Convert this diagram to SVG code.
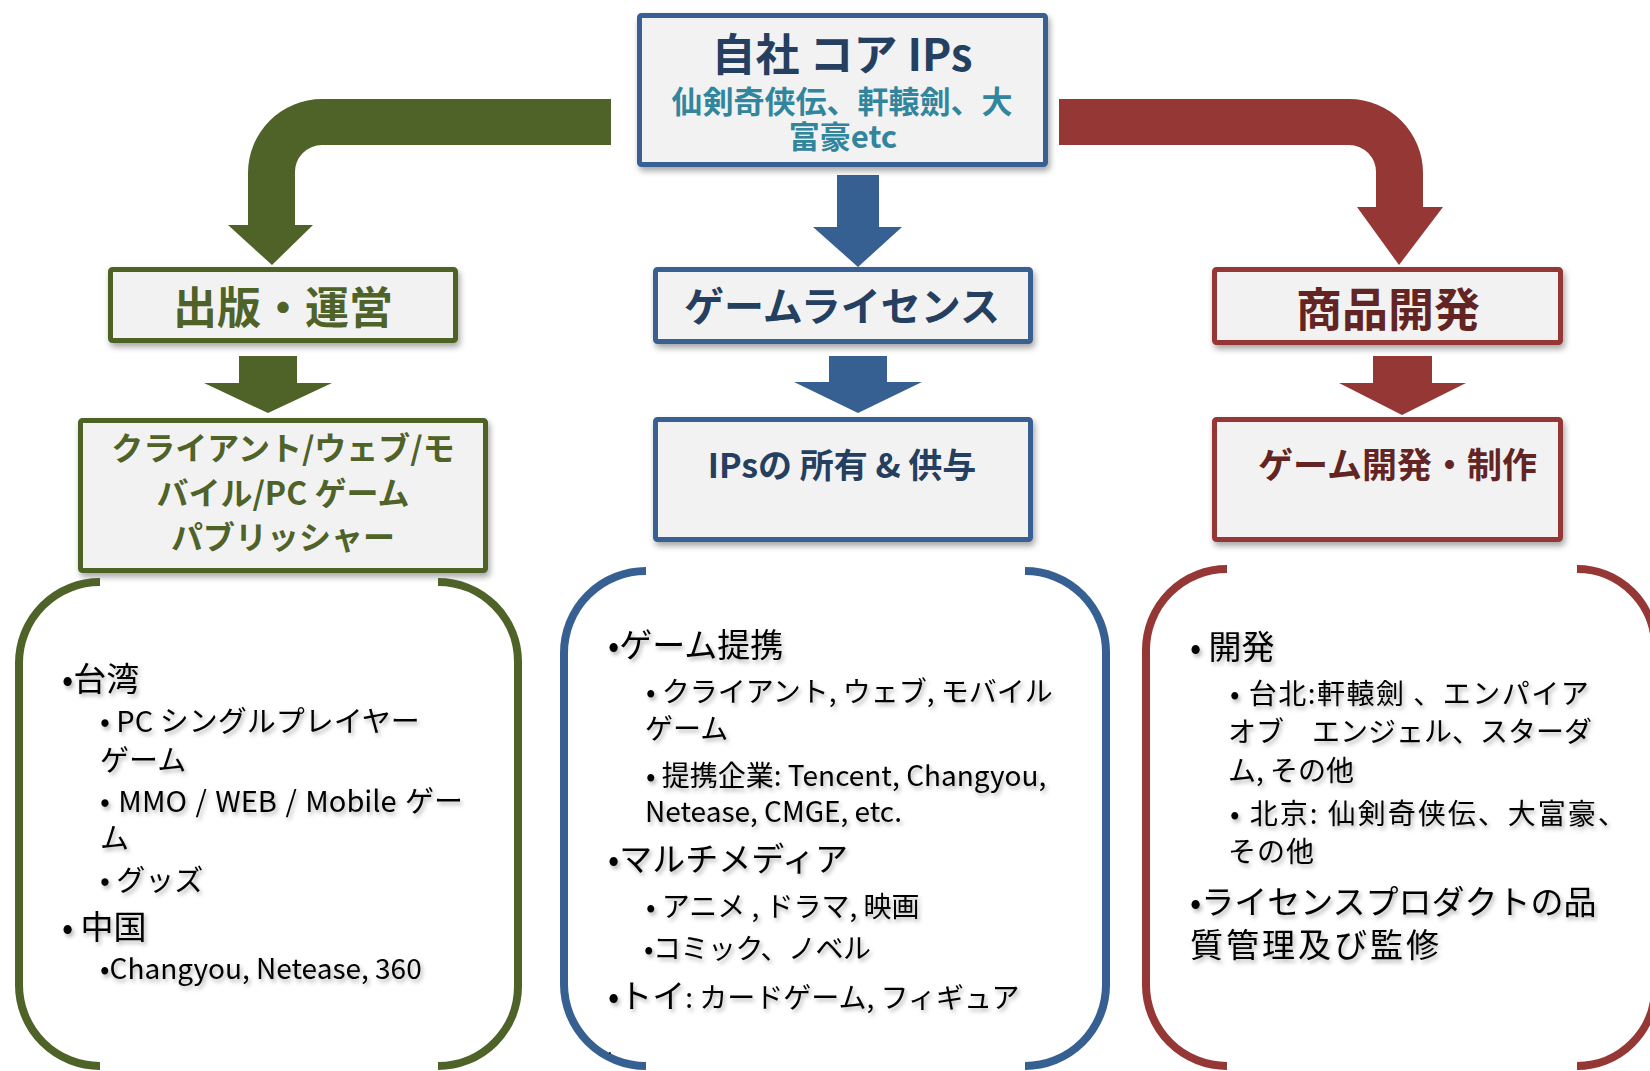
<svg xmlns="http://www.w3.org/2000/svg" width="1650" height="1071" viewBox="0 0 1650 1071">
<defs>
<filter id="bs" x="-10%" y="-10%" width="130%" height="140%">
<feDropShadow dx="2" dy="4" stdDeviation="3" flood-color="#000" flood-opacity="0.35"/>
</filter>
<filter id="ts" x="-5%" y="-20%" width="115%" height="160%">
<feDropShadow dx="2" dy="3" stdDeviation="2" flood-color="#000" flood-opacity="0.3"/>
</filter>
</defs>
<style>
text{font-family:'Noto Sans CJK JP','Noto Sans',sans-serif;}
.box{fill:#f2f2f2;stroke-width:5;}
.g{stroke:#4f6228;} .b{stroke:#376092;} .r{stroke:#953735;}
.gf{fill:#4f6228;} .bf{fill:#376092;} .rf{fill:#953735;}
.t1{font-weight:bold;text-anchor:middle;}
.brk{fill:none;stroke-width:8;}
.lst{fill:#000;}
.m{font-size:33px;} .s{font-size:28px;} .s29{font-size:29px;}
</style>

<g id="connectors">
<path class="gf" d="M611,99 L322,99 A74,74 0 0 0 248,173 L248,225 L228,225 L272,265 L313,225 L295,225 L295,173 A27,27 0 0 1 322,145 L611,145 Z"/>
<path class="rf" d="M1059,99 L1349,99 A74,74 0 0 1 1423,173 L1423,207 L1443,207 L1399,265 L1357,207 L1376,207 L1376,173 A27,27 0 0 0 1349,145 L1059,145 Z"/>
<path class="bf" d="M837,175 H879 V227 H902 L858,267 L813,227 H837 Z"/>
<path class="gf" d="M239,356 H297 V383 H332 L268,413 L204,383 H239 Z"/>
<path class="bf" d="M829,356 H887 V382 H922 L858,413 L794,382 H829 Z"/>
<path class="rf" d="M1373,356 H1432 V383 H1466 L1402,415 L1339,383 H1373 Z"/>
</g>

<g id="core">
<rect class="box b" x="639.5" y="15.5" width="406" height="149" rx="2" filter="url(#bs)"/>
<text class="t1" x="842" y="71" font-size="44" fill="#243f60">自社 コア IPs</text>
<text class="t1" x="842" y="113" font-size="31" fill="#31859c">仙剣奇侠伝、軒轅劍、大</text>
<text class="t1" x="843" y="148" font-size="31" fill="#31859c">富豪etc</text>
</g>

<g id="publish">
<rect class="box g" x="110.5" y="269.5" width="345" height="71" rx="2" filter="url(#bs)"/>
<text class="t1" x="283" y="324" font-size="44" fill="#4f6228">出版・運営</text>
</g>
<g id="publisher">
<rect class="box g" x="80.5" y="420.5" width="405" height="150" rx="2" filter="url(#bs)"/>
<text class="t1" x="283" y="460" font-size="32" fill="#4f6228">クライアント/ウェブ/モ</text>
<text class="t1" x="283" y="505" font-size="32" fill="#4f6228">バイル/PC ゲーム</text>
<text class="t1" x="283" y="549" font-size="32" fill="#4f6228">パブリッシャー</text>
</g>

<g id="license">
<rect class="box b" x="655.5" y="269.5" width="375" height="72" rx="2" filter="url(#bs)"/>
<text class="t1" x="842" y="321" font-size="40" fill="#243f60">ゲームライセンス</text>
</g>
<g id="ipown">
<rect class="box b" x="655.5" y="419.5" width="375" height="120" rx="2" filter="url(#bs)"/>
<text class="t1" x="842" y="478" font-size="34" fill="#243f60">IPsの 所有 &amp; 供与</text>
</g>

<g id="product">
<rect class="box r" x="1214.5" y="269.5" width="346" height="73" rx="2" filter="url(#bs)"/>
<text class="t1" x="1388" y="326" font-size="46" fill="#632523">商品開発</text>
</g>
<g id="gamedev">
<rect class="box r" x="1214.5" y="419.5" width="346" height="120" rx="2" filter="url(#bs)"/>
<text x="1258" y="478" font-size="35" font-weight="bold" fill="#632523">ゲーム開発・制作</text>
</g>

<g id="list-green">
<path class="brk g" d="M100,582 A81,81 0 0 0 19,663 V985 A81,81 0 0 0 100,1066"/>
<path class="brk g" d="M438,582 A80,80 0 0 1 518,662 V986 A80,80 0 0 1 438,1066"/>
<g class="lst" filter="url(#ts)">
<text class="m" x="62" y="691">•台湾</text>
<text class="s29" x="100" y="732">• PC シングルプレイヤー</text>
<text class="s29" x="100" y="771">ゲーム</text>
<text class="s29" x="100" y="812" word-spacing="2">• MMO / WEB / Mobile ゲー</text>
<text class="s29" x="100" y="849">ム</text>
<text class="s29" x="100" y="891">• グッズ</text>
<text class="m" x="62" y="939">• 中国</text>
<text class="s" x="100" y="979">•Changyou, Netease, 360</text>
</g>
</g>

<g id="list-blue">
<path class="brk b" d="M646,571 A82,82 0 0 0 564,653 V984 A82,82 0 0 0 646,1066"/>
<path class="brk b" d="M1025,571 A81,81 0 0 1 1106,652 V985 A81,81 0 0 1 1025,1066"/>
<g class="lst" filter="url(#ts)">
<text class="m" x="608" y="657">•ゲーム提携</text>
<text class="s" x="646" y="702">• クライアント, ウェブ, モバイル</text>
<text class="s" x="645" y="739">ゲーム</text>
<text class="s" x="646" y="786">• 提携企業: Tencent, Changyou,</text>
<text class="s" x="645" y="822">Netease, CMGE, etc.</text>
<text class="m" x="608" y="871">•マルチメディア</text>
<text class="s" x="646" y="917">• アニメ , ドラマ, 映画</text>
<text class="s" x="644" y="959" letter-spacing="-0.5">•コミック、ノベル</text>
<text class="m" x="608" y="1008">•トイ<tspan font-size="28">: カードゲーム, フィギュア</tspan></text>
<text x="608" y="1054" font-size="14">.</text>
</g>
</g>

<g id="list-red">
<path class="brk r" d="M1227,569 A81,81 0 0 0 1146,650 V985 A81,81 0 0 0 1227,1066"/>
<path class="brk r" d="M1577,569 A78,78 0 0 1 1655,647 V988 A78,78 0 0 1 1577,1066"/>
<g class="lst" filter="url(#ts)">
<text class="m" x="1190" y="659">• 開発</text>
<text class="s" x="1230" y="704" letter-spacing="1.5">• 台北:軒轅劍 、エンパイア</text>
<text class="s" x="1228" y="742">オブ　エンジェル、スターダ</text>
<text class="s" x="1228" y="781">ム, その他</text>
<text class="s" x="1230" y="824" letter-spacing="2">• 北京: 仙剣奇侠伝、大富豪、</text>
<text class="s" x="1228" y="862" letter-spacing="1">その他</text>
<text class="m" x="1190" y="914">•ライセンスプロダクトの品</text>
<text class="m" x="1190" y="957" letter-spacing="3">質管理及び監修</text>
</g>
</g>
</svg>
